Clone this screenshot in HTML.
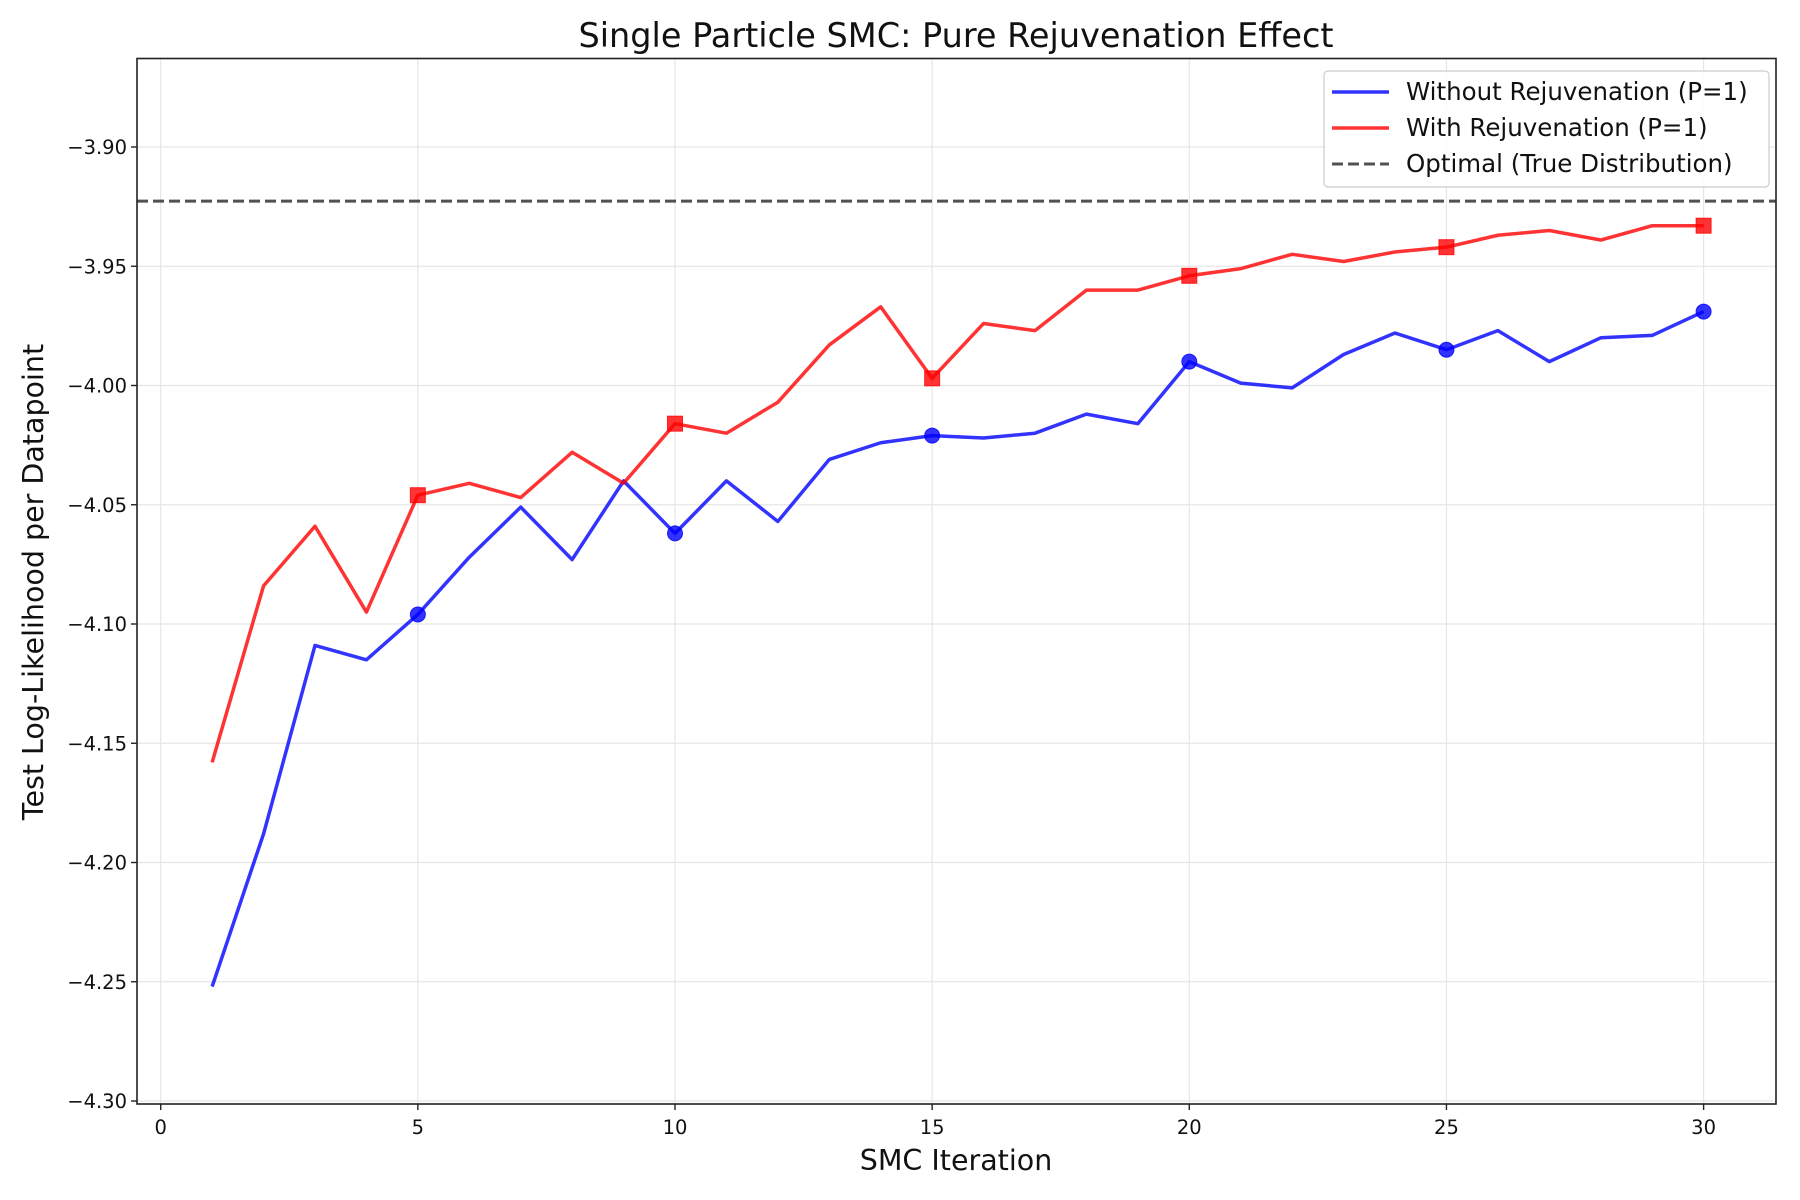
<!DOCTYPE html>
<html><head><meta charset="utf-8"><style>
html,body{margin:0;padding:0;background:#fff}
svg{display:block;font-family:"DejaVu Sans","Liberation Sans",sans-serif}
</style></head><body>
<svg id="chart" width="1800" height="1200" viewBox="0 0 1800 1200" xmlns="http://www.w3.org/2000/svg">
<rect width="1800" height="1200" fill="#fff"/>
<g id="grid"></g>
<g id="plot"></g>
<rect x="137" y="58.5" width="1639" height="1045.5" fill="none" stroke="#222" stroke-width="1.6"/>
<g id="ticks"></g>
<text x="956" y="47" font-size="33.5" text-anchor="middle" fill="#111">Single Particle SMC: Pure Rejuvenation Effect</text>
<text x="956" y="1170" font-size="28.5" text-anchor="middle" fill="#111">SMC Iteration</text>
<text transform="translate(43,582) rotate(-90)" font-size="28.5" text-anchor="middle" fill="#111">Test Log-Likelihood per Datapoint</text>
<g>
<rect x="1324" y="71" width="445" height="116" rx="4" fill="#fff" fill-opacity="0.85" stroke="#ccc" stroke-width="1.2"/>
<g><line x1="1332" y1="92" x2="1389" y2="92" stroke="#0000ff" stroke-opacity="0.8" stroke-width="3.5"/><text x="1406" y="100" font-size="24.5" fill="#111">Without Rejuvenation (P=1)</text></g>
<g><line x1="1332" y1="128" x2="1389" y2="128" stroke="#ff0000" stroke-opacity="0.8" stroke-width="3.5"/><text x="1406" y="136" font-size="24.5" fill="#111">With Rejuvenation (P=1)</text></g>
<g><line x1="1332" y1="164" x2="1389" y2="164" stroke="#333" stroke-opacity="0.85" stroke-width="3" stroke-dasharray="11,5"/><text x="1406" y="172" font-size="24.5" fill="#111">Optimal (True Distribution)</text></g>
</g>
</svg>
<script>
const iterations = [1,2,3,4,5,6,7,8,9,10,11,12,13,14,15,16,17,18,19,20,21,22,23,24,25,26,27,28,29,30];
const withoutRejuv = [-4.252,-4.188,-4.109,-4.115,-4.096,-4.072,-4.051,-4.073,-4.040,-4.062,-4.040,-4.057,-4.031,-4.024,-4.021,-4.022,-4.020,-4.012,-4.016,-3.990,-3.999,-4.001,-3.987,-3.978,-3.985,-3.977,-3.990,-3.980,-3.979,-3.969];
const withRejuv = [-4.158,-4.084,-4.059,-4.095,-4.046,-4.041,-4.047,-4.028,-4.041,-4.016,-4.020,-4.007,-3.983,-3.967,-3.997,-3.974,-3.977,-3.960,-3.960,-3.954,-3.951,-3.945,-3.948,-3.944,-3.942,-3.937,-3.935,-3.939,-3.933,-3.933];
const optimalValue = -3.9227;
const xTicks = [0,5,10,15,20,25,30];
const yTicks = [-4.30,-4.25,-4.20,-4.15,-4.10,-4.05,-4.00,-3.95,-3.90];
const markerEvery = 5;

const NS = "http://www.w3.org/2000/svg";
function xs(v){ return 160.7 + v * 51.43; }
function ys(v){ return 147 + (-3.90 - v) * 2385; }
function mk(tag, attrs, parent){ const e=document.createElementNS(NS,tag); for(const k in attrs) e.setAttribute(k,attrs[k]); parent.appendChild(e); return e; }
const grid=document.getElementById('grid'), plot=document.getElementById('plot'), ticks=document.getElementById('ticks');
const L=137,R=1776,T=58.5,B=1104;
xTicks.forEach(t=>{
  const x=xs(t);
  const g=mk('line',{x1:x,x2:x,y1:T,y2:B,stroke:'#e6e6e6','stroke-width':1.2},grid);
  
  
  const tk=mk('line',{x1:x,x2:x,y1:B,y2:B+6,stroke:'#222','stroke-width':1.4},ticks);
  
  
  const lb=mk('text',{x:x,y:B+30,'font-size':19.5,'text-anchor':'middle',fill:'#111'},ticks);
  
  
  lb.textContent=String(t);
});
yTicks.forEach(t=>{
  const y=ys(t);
  const g=mk('line',{x1:L,x2:R,y1:y,y2:y,stroke:'#e6e6e6','stroke-width':1.2},grid);
  
  
  const tk=mk('line',{x1:L-6,x2:L,y1:y,y2:y,stroke:'#222','stroke-width':1.4},ticks);
  
  
  const lb=mk('text',{x:L-10,y:y+7,'font-size':19.5,'text-anchor':'end',fill:'#111'},ticks);
  
  
  lb.textContent='\u2212'+Math.abs(t).toFixed(2);
});
const opt=mk('line',{x1:L,x2:R,y1:ys(optimalValue),y2:ys(optimalValue),stroke:'#333','stroke-opacity':0.85,'stroke-width':3,'stroke-dasharray':'11,5'},plot);


function series(vals,color,name,square){
  const pts=iterations.map((it,i)=>xs(it)+','+ys(vals[i])).join(' ');
  const pl=mk('polyline',{points:pts,fill:'none',stroke:color,'stroke-opacity':0.8,'stroke-width':3.5,'stroke-linejoin':'round'},plot);
  
  
  iterations.forEach((it,i)=>{
    if(it%markerEvery!==0) return;
    let m;
    if(square) m=mk('rect',{x:xs(it)-7.5,y:ys(vals[i])-7.5,width:15,height:15,fill:color,'fill-opacity':0.8,stroke:color,'stroke-opacity':0.8},plot);
    else m=mk('circle',{cx:xs(it),cy:ys(vals[i]),r:7.5,fill:color,'fill-opacity':0.8,stroke:color,'stroke-opacity':0.8},plot);
    
    
  });
}
series(withoutRejuv,'#0000ff','without-rejuvenation',false);
series(withRejuv,'#ff0000','with-rejuvenation',true);
</script>
</body></html>
